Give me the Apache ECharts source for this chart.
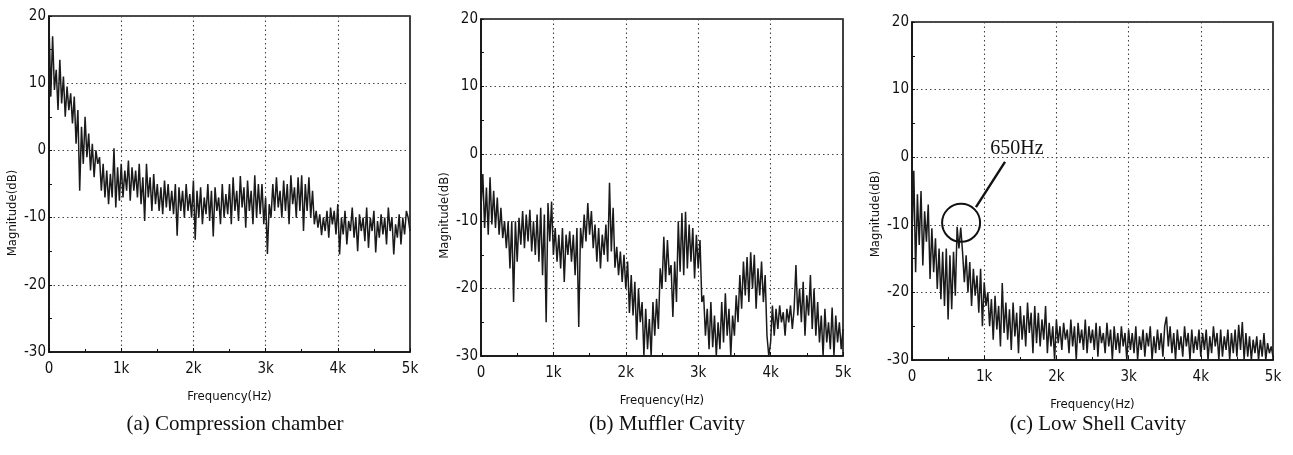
<!DOCTYPE html>
<html>
<head>
<meta charset="utf-8">
<script src="https://cdn.jsdelivr.net/npm/echarts@6/dist/echarts.min.js"></script>
<style>
html,body{margin:0;padding:0;background:#fff;}
#c{width:1293px;height:455px;}
</style>
</head>
<body>
<div id="c"></div>
<script>
// ---- data ----
const FREQ_STEP_HZ = 25;           // spectral resolution of the sampled curves
const xTicks = [0, 1000, 2000, 3000, 4000, 5000];
const xTickLabels = ['0', '1k', '2k', '3k', '4k', '5k'];
const yTicks = [-30, -20, -10, 0, 10, 20];

const captions = ['(a) Compression chamber', '(b) Muffler Cavity', '(c) Low Shell Cavity'];

const compressionChamber = [
  19, 8, 17, 9, 12, 6, 13.5, 7, 11, 5, 9.5, 6, 8.5, 4, 8, 1, 6, -6, 3.5, -2,
  5, -1, 2.5, -3, 1, -4, 0, -2, -1, -6, -2, -7, -3, -8, -3.5, -7, 0.3, -8.5, -2.5, -7.5,
  -2, -7, -3, -6, -1.5, -7.5, -2.5, -6, -3, -7, -2, -8, -4, -10.5, -2, -7, -4, -9, -3.5, -8,
  -5, -9, -5.5, -9.5, -4.5, -8.5, -5, -9, -6, -9.5, -5, -12.7, -5.5, -9, -6, -10, -5, -9, -6.5, -10,
  -4.5, -13.3, -6, -10, -5.5, -11, -7, -9.5, -5, -10.5, -6, -12.8, -5.5, -9, -7, -11, -5, -10, -6.5, -9.5,
  -5, -11, -4, -9, -6, -10.5, -3.8, -8.5, -5.5, -11.5, -4.5, -9, -6, -11, -3.7, -10, -5, -9.5, -5, -11,
  -7, -15.4, -8, -10, -5, -9, -4, -8.5, -6, -10, -4.5, -9, -5, -11, -3.7, -8, -5.5, -10, -4, -9,
  -3.7, -12, -5, -9, -4, -10, -6, -11, -9, -11.5, -9.5, -12.6, -10, -12, -9, -13, -8.5, -11, -9, -12.5,
  -8, -15.5, -10, -12.5, -9, -14, -10.5, -12, -8.5, -13, -10, -15, -9.5, -12, -10, -13.5, -8.5, -14.5, -10, -12,
  -9, -15.2, -10.5, -13, -9.5, -12.5, -10, -14, -8.5, -12, -10, -15.5, -11, -13, -9.5, -14, -10, -12.5, -9, -10,
  -12
];

const mufflerCavity = [
  -8, -3, -11, -5, -12, -3.5, -10.5, -5.5, -11, -6.5, -12, -8, -12.5, -10, -14, -10, -17, -10, -22, -10,
  -16, -9.5, -13.5, -8.5, -14, -9, -13, -8.3, -14.5, -10, -15, -9, -16, -8, -18, -9, -25, -7.3, -13, -7.1,
  -15, -11, -16, -12, -17, -11, -19, -12, -15, -11.5, -16, -12, -18, -11, -25.7, -11, -14, -9, -13, -7.3,
  -12, -8.5, -14, -10.5, -16, -11, -17, -12, -15, -10.5, -16, -4.3, -14.5, -8, -16.9, -13.8, -18, -14.5, -19, -15,
  -20, -16, -23.6, -18, -24, -19, -27.6, -20, -25, -22, -30, -23, -29, -24.5, -30, -22, -27, -21.5, -26, -17,
  -20, -12.3, -19, -12.8, -18, -16.5, -24.2, -16, -22, -10, -17.5, -8.8, -18, -8.6, -17, -10.5, -16, -11, -18.5, -12,
  -17, -12.8, -22, -21, -27, -23, -29, -22, -28.7, -24, -30, -25, -29, -22, -28, -20.7, -27, -23, -30, -24,
  -27, -21, -25, -18, -23, -16, -21, -15.3, -22, -14.6, -20, -15, -23, -17, -21, -16, -22, -18, -27, -30,
  -28, -22.5, -27, -23, -26, -22.5, -25, -23.5, -27, -23, -25, -22.5, -26, -23, -16.5, -24, -20, -25, -19, -27,
  -21, -24, -18, -26, -20, -27, -22, -28, -24, -30, -23, -28, -25, -29, -22.8, -30, -24, -28, -25, -29,
  -26
];

const lowShellCavity = [
  -12, -2, -17, -5.5, -13, -5, -16, -8, -12.5, -7, -18, -10.5, -17, -12, -19.5, -13.5, -21, -14, -22, -13.5,
  -24, -14.5, -22.5, -14, -20.5, -10.3, -13.5, -10.4, -14, -18.5, -14.5, -20, -15.5, -22, -16.5, -20.5, -17.5, -23, -16.5, -25,
  -18.5, -22, -20, -25, -21, -27, -20.5, -25.5, -22, -28, -18.6, -26, -21.5, -27, -22.5, -28.5, -21.5, -26.5, -23, -29,
  -22, -27, -23.4, -28, -21.5, -26, -23, -29, -22, -27.5, -23, -28, -24, -27, -22, -29, -24.5, -28, -25, -30,
  -24, -27.5, -25, -28.5, -24.5, -27, -25.5, -29, -24, -28, -25, -30, -24.5, -27.5, -25.5, -28.5, -24, -29, -25, -27.5,
  -25.5, -28.5, -24.5, -29.5, -25, -27.5, -26, -29, -24.5, -28, -25.5, -30, -25, -28.5, -26, -29, -25, -28, -26, -30,
  -25.5, -28.5, -26, -29, -25, -30, -26.5, -28.5, -25.5, -29.5, -26, -28, -25, -30, -26.5, -29, -25.5, -28.5, -26, -29.5,
  -25, -23.6, -28, -25, -29, -26, -30, -25.5, -28.5, -26.5, -29.5, -25, -28, -26, -30, -25.5, -29, -26.5, -28.5, -25.5,
  -29.5, -26, -28.5, -25.5, -30, -26.5, -29, -25, -28, -26, -30, -25.5, -29.5, -26.5, -28.5, -25.5, -30, -26, -29, -25.5,
  -29.5, -24.8, -28.5, -24.4, -30, -26, -29.5, -26.5, -30, -27, -29, -26.5, -30, -27, -29.5, -26, -30, -27.5, -29, -28,
  -29.5
];

// annotation on panel (c), in data coordinates [Hz, dB]
const annotCircle = [680, -9.7];
const annotText = [1454, 1.3];
const annotArrowFrom = [1288, -0.7];
const annotArrowTo = [886, -7.4];
const annotLabel = '650Hz';

// ---- chart ----
const NARROW = "'Liberation Sans Narrow','DejaVu Sans Condensed','Arial Narrow',sans-serif";
const SERIF = "'Liberation Serif','Times New Roman',serif";
const toPairs = arr => arr.map((v, i) => [i * FREQ_STEP_HZ, v]);

const grids = [
  {left: 49, right: 883, top: 16, bottom: 103},
  {left: 481, right: 450, top: 19, bottom: 99},
  {left: 912, right: 20, top: 22, bottom: 95}
].map(g => Object.assign({show: true, borderColor: '#111', borderWidth: 1.6, backgroundColor: '#fff'}, g));

const yNamePad = [58, 56, 46];
const xAxes = grids.map((g, i) => ({
  type: 'value', gridIndex: i, min: xTicks[0], max: xTicks[xTicks.length - 1], interval: 1000,
  name: 'Frequency(Hz)', nameLocation: 'middle', nameGap: 38,
  nameTextStyle: {fontFamily: NARROW, fontSize: 13, color: '#111', letterSpacing: -0.6},
  axisLine: {show: true, onZero: false, lineStyle: {color: '#111', width: 1.6}},
  axisTick: {show: true, inside: true, length: 4, lineStyle: {color: '#111'}},
  minorTick: {show: true, splitNumber: 2, length: 3, lineStyle: {color: '#111'}},
  axisLabel: {fontFamily: NARROW, fontSize: 15, color: '#111', margin: 10,
    formatter: v => xTickLabels[xTicks.indexOf(v)]},
  splitLine: {show: true, lineStyle: {color: '#444', type: [1.5, 3], width: 1.1}}
}));
const yAxes = grids.map((g, i) => ({
  type: 'value', gridIndex: i, min: yTicks[0], max: yTicks[yTicks.length - 1], interval: 10,
  name: 'Magnitude(dB)', nameLocation: 'middle', nameGap: 30, nameRotate: 90,
  nameTextStyle: {fontFamily: NARROW, fontSize: 13, color: '#111', letterSpacing: -0.6,
    padding: [0, yNamePad[i], 0, 0]},
  axisLine: {show: true, onZero: false, lineStyle: {color: '#111', width: 1.6}},
  axisTick: {show: true, inside: true, length: 3, lineStyle: {color: '#111'}},
  minorTick: {show: true, splitNumber: 2, length: 3, lineStyle: {color: '#111'}},
  axisLabel: {fontFamily: NARROW, fontSize: 15, color: '#111', margin: 3, letterSpacing: -1},
  splitLine: {show: true, lineStyle: {color: '#444', type: [1.5, 3], width: 1.1}}
}));

const lineStyle = {color: '#1a1a1a', width: 1.5};
const series = [compressionChamber, mufflerCavity, lowShellCavity].map((arr, i) => ({
  type: 'line', xAxisIndex: i, yAxisIndex: i, data: toPairs(arr),
  showSymbol: false, symbol: 'none', lineStyle: lineStyle, silent: true, animation: false, z: 3
}));

series[2].markPoint = {
  silent: true, animation: false,
  data: [
    {coord: annotCircle, symbol: 'circle', symbolSize: 38,
     itemStyle: {color: 'rgba(0,0,0,0)', borderColor: '#111', borderWidth: 2}, label: {show: false}},
    {coord: annotText, symbol: 'rect', symbolSize: 1,
     itemStyle: {color: 'rgba(0,0,0,0)'},
     label: {show: true, position: 'inside', formatter: annotLabel,
       fontFamily: SERIF, fontSize: 20, color: '#111'}}
  ]
};
series[2].markLine = {
  silent: true, animation: false, symbol: ['none', 'arrow'], symbolSize: [0, 15],
  lineStyle: {color: '#111', width: 2.4, type: 'solid'}, label: {show: false},
  data: [[{coord: annotArrowFrom}, {coord: annotArrowTo}]]
};

const titleCenters = [230, 662, 1093];
const titles = captions.map((t, i) => ({
  text: t, left: titleCenters[i], top: 409, textAlign: 'center',
  textStyle: {fontFamily: SERIF, fontSize: 21, fontWeight: 'normal', color: '#111'}
}));

const chart = echarts.init(document.getElementById('c'), null, {renderer: 'canvas'});
chart.setOption({
  animation: false,
  backgroundColor: '#fff',
  title: titles,
  grid: grids,
  xAxis: xAxes,
  yAxis: yAxes,
  series: series
});
</script>
</body>
</html>
